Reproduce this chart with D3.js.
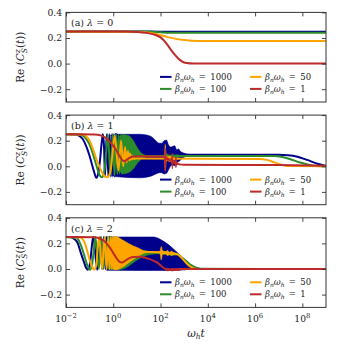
<!DOCTYPE html>
<html>
<head>
  <meta charset='utf-8'>
  <script src='https://cdnjs.cloudflare.com/ajax/libs/d3/7.8.5/d3.min.js'></script>
  <style>
    body { margin: 0; background: #fff; }
  </style>
</head>
<body>
<svg id='plot' width='338' height='350'></svg>
<script>
// x values are log10(omega_h t); band rows are [log10 t, low, high]
const betaLabels = ['1000', '100', '50', '1'];
const colors = ['#00008b', '#2a8c2a', '#ffa500', '#bd2a2a'];
const lambdas = ['0', '1', '2'];
const panelTags = ['(a)', '(b)', '(c)'];
const xTickExps = [-2, 0, 2, 4, 6, 8];
const yTicks = [-0.2, 0.0, 0.2, 0.4];
const FONT = 'DejaVu Serif';

// (a) lambda = 0
const a1000 = [[-2, .25], [1.5, .25], [2.5, .249], [9, .249]];
const a100 = [[-2, .25], [1.2, .25], [1.6, .248], [2.0, .244], [2.5, .241], [9, .241]];
const a50 = [[-2, .25], [0.8, .249], [1.3, .245], [1.7, .235], [2.0, .222], [2.3, .207],
  [2.6, .195], [2.9, .186], [3.3, .179], [4, .177], [9, .177]];
const a1 = [[-2, .25], [0.5, .25], [1.0, .247], [1.4, .24], [1.7, .228], [2.0, .205],
  [2.15, .18], [2.3, .145], [2.45, .105], [2.6, .07], [2.75, .04], [2.9, .018],
  [3.1, .005], [3.4, .001], [9, 0]];

// (b) lambda = 1
const b1000 = [[-2, .25], [-1.6, .249], [-1.45, .24], [-1.3, .215], [-1.15, .16], [-1.0, .08],
  [-0.88, 0], [-0.8, -.05], [-0.72, -.09], [-0.64, -.06], [-0.56, .05], [-0.48, .2],
  [-0.44, .25], [-0.39, .15], [-0.35, -.08], [-0.31, .12], [-0.27, .25], [-0.21, -.08],
  [-0.15, .25], [-0.1, -.08], [-0.053, .25], [-0.015, -.08], [0.025, .25], [0.06, -.08],
  [0.09, .25], [1.0, .08], [3.25, .09], [7.0, .09], [7.4, .087], [7.8, .075], [8.2, .05],
  [8.6, .022], [9, .003]];
const b1000Band = [[0.06, -.08, .25], [1.1, -.09, .25], [1.4, -.085, .245], [1.62, -.075, .23],
  [1.8, -.06, .2], [1.95, -.05, .18], [2.05, -.05, .18], [2.15, -.06, .2], [2.25, -.055, .205],
  [2.33, -.03, .17], [2.42, 0, .15], [2.5, .01, .155], [2.6, .005, .16], [2.68, .03, .13],
  [2.76, .035, .135], [2.85, .05, .115], [2.95, .065, .105], [3.1, .08, .097], [3.25, .088, .092]];
const b100 = [[-2, .25], [-1.5, .249], [-1.3, .24], [-1.15, .215], [-1.0, .17], [-0.85, .09],
  [-0.72, .01], [-0.6, -.06], [-0.48, -.085], [-0.4, -.06], [-0.33, .04], [-0.27, .18],
  [-0.23, .25], [-0.114, -.07], [-0.02, .25], [0.053, -.07], [0.117, .25], [0.173, -.06],
  [0.223, .245], [0.267, -.055], [0.307, .24], [0.344, -.05], [0.378, .235], [0.7, .08],
  [1.5, .08], [6.8, .08], [7.1, .075], [7.5, .055], [7.9, .03], [8.3, .01], [8.6, .002], [9, 0]];
const b100Band = [[0.34, -.06, .25], [0.64, -.05, .24], [0.85, -.02, .2], [1.0, .02, .15],
  [1.15, .05, .11], [1.3, .07, .09], [1.5, .077, .082], [2.1, .077, .082], [2.2, .06, .1],
  [2.3, .065, .095], [2.4, .075, .085], [2.5, .065, .095], [2.6, .072, .088], [2.7, .07, .09],
  [2.85, .078, .081]];
const b50 = [[-2, .25], [-1.3, .248], [-1.15, .235], [-1.0, .2], [-0.85, .13], [-0.7, .05],
  [-0.55, -.02], [-0.4, -.07], [-0.25, -.085], [-0.12, -.04], [-0.03, .1], [0.06, .24],
  [0.22, -.03], [0.33, .2], [0.42, 0], [0.5, .15], [0.56, .03], [0.62, .12], [0.67, .045],
  [0.71, .1], [0.75, .05], [0.79, .085], [0.82, .055], [0.85, .075], [0.9, .058], [1.0, .062],
  [1.1, .06], [6.2, .058], [6.5, .05], [6.8, .032], [7.1, .013], [7.4, .002], [9, 0]];
const b50Band = [[2.17, .055, .065], [2.2, -.03, .17], [2.23, .03, .09], [2.3, .045, .075],
  [2.4, .035, .08], [2.5, .045, .07], [2.6, .05, .065], [2.75, .058, .06]];
const b1 = [[-2, .25], [-0.8, .249], [-0.5, .24], [-0.3, .22], [-0.1, .18], [0.08, .14], [0.2, .1],
  [0.3, .07], [0.4, .045], [0.47, .04], [0.57, .05], [0.7, .068], [0.85, .076], [1.2, .078],
  [2.0, .076], [2.15, .072], [2.4, .05], [2.6, .03], [2.8, .015], [3.0, .012], [7, .01], [9, .004]];
const b1Band = [[2.15, .072, .078], [2.2, -.04, .14], [2.25, .05, .07], [2.4, .04, .055],
  [2.47, .02, .07], [2.5, -.02, .1], [2.53, .02, .05], [2.6, .02, .04], [2.65, -.01, .07],
  [2.7, .015, .03], [2.8, .012, .018]];

// (c) lambda = 2
const c1000 = [[-2, .25], [-1.8, .248], [-1.65, .235], [-1.5, .2], [-1.38, .13], [-1.25, .06],
  [-1.15, .01], [-1.09, -.005], [-1.02, .01], [-0.95, .1], [-0.88, .22], [-0.84, .25],
  [-0.68, -.005], [-0.56, .25], [-0.47, 0], [-0.4, .25], [-0.33, 0], [-0.28, .25],
  [-0.225, 0], [-0.18, .25], [0, .12], [3.0, .05], [3.7, 0], [9, 0]];
const c1000Band = [[-0.28, -.01, .25], [1.7, -.012, .25], [1.9, -.012, .24], [2.1, -.012, .22],
  [2.3, -.012, .195], [2.5, -.012, .165], [2.7, -.01, .13], [2.9, -.008, .095], [3.1, -.005, .06],
  [3.3, -.003, .03], [3.5, -.001, .01], [3.7, 0, .002]];
const c100 = [[-2, .25], [-1.6, .247], [-1.5, .235], [-1.38, .19], [-1.25, .12], [-1.12, .04],
  [-1.02, 0], [-0.98, -.005], [-0.9, .03], [-0.82, .15], [-0.76, .25], [-0.61, 0], [-0.51, .25],
  [-0.42, 0], [-0.35, .25], [-0.28, 0], [-0.23, .25], [-0.18, 0], [-0.14, .25], [0.5, .12],
  [1.9, .125], [2.7, .115], [2.9, .09], [3.1, .06], [3.3, .03], [3.5, .01], [3.7, .001], [9, 0]];
const c100Band = [[-0.18, -.005, .25], [0.1, -.005, .25], [0.4, 0, .225], [0.7, .03, .19],
  [1.0, .07, .16], [1.3, .1, .145], [1.6, .115, .135], [1.9, .12, .13], [2.1, .115, .14],
  [2.3, .11, .13], [2.5, .108, .125], [2.7, .108, .12]];
const c50 = [[-2, .25], [-1.4, .247], [-1.3, .235], [-1.2, .2], [-1.1, .14], [-1.0, .07],
  [-0.9, .02], [-0.8, -.005], [-0.72, .03], [-0.66, .15], [-0.6, .25], [-0.47, 0], [-0.37, .25],
  [-0.28, 0], [-0.21, .25], [-0.155, 0], [-0.1, .25], [-0.056, 0], [-0.013, .25], [0.025, 0],
  [0.06, .25], [0.5, .12], [1.48, .133], [2.0, .13], [2.7, .117], [2.85, .095], [3.0, .065],
  [3.15, .035], [3.3, .015], [3.45, .003], [3.6, 0], [9, 0]];
const c50Band = [[0.03, -.005, .25], [0.15, -.005, .25], [0.35, .01, .23], [0.64, .047, .2],
  [0.85, .075, .18], [1.06, .099, .164], [1.25, .12, .145], [1.48, .13, .136], [1.9, .128, .134],
  [1.98, .12, .14], [2.03, .07, .175], [2.08, .115, .145], [2.2, .12, .135], [2.3, .105, .145],
  [2.38, .115, .13], [2.45, .105, .14], [2.55, .112, .128], [2.7, .115, .12]];
const c1 = [[-2, .25], [-0.8, .248], [-0.6, .24], [-0.4, .22], [-0.2, .18], [0, .125], [0.15, .08],
  [0.27, .055], [0.35, .05], [0.45, .057], [0.57, .073], [0.7, .087], [0.85, .094], [1.1, .095],
  [1.35, .088], [1.55, .077], [1.75, .06], [1.9, .045], [2.02, .025], [2.12, .01], [2.22, 0],
  [2.35, -.005], [2.6, -.003], [2.9, 0], [9, 0]];
const c1Band = [[2.2, -.002, .002], [2.3, -.015, .005], [2.4, -.01, 0], [2.5, -.016, .004],
  [2.6, -.01, .002], [2.75, -.012, .003], [2.9, -.002, .002]];

const panelLines = [[a1000, a100, a50, a1], [b1000, b100, b50, b1], [c1000, c100, c50, c1]];
const panelBands = [[[], [], [], []], [b1000Band, b100Band, b50Band, b1Band], [c1000Band, c100Band, c50Band, c1Band]];

const svg = d3.select('#plot');
const left = 66, right = 326, panelH = 89.6;
const tops = [12.4, 115.1, 217.8];
const x = d3.scaleLog().domain([1e-2, 1e9]).range([left, right]);

tops.forEach((top, p) => {
  const y = d3.scaleLinear().domain([-0.3, 0.4]).range([top + panelH, top]);
  const g = svg.append('g');
  g.append('clipPath').attr('id', 'clip' + p)
    .append('rect').attr('x', left).attr('y', top).attr('width', right - left).attr('height', panelH);
  const plot = g.append('g').attr('clip-path', `url(#clip${p})`);
  const line = d3.line().x((d) => x(Math.pow(10, d[0]))).y((d) => y(d[1])).curve(d3.curveMonotoneX);
  const area = d3.area().x((d) => x(Math.pow(10, d[0])))
    .y0((d) => y(d[1])).y1((d) => y(d[2])).curve(d3.curveMonotoneX);
  panelLines[p].forEach((series, i) => {
    const band = panelBands[p][i];
    if (band.length) {
      plot.append('path').datum(band).attr('fill', colors[i])
        .attr('stroke', colors[i]).attr('stroke-width', 0.6).attr('d', area);
    }
    plot.append('path').datum(series)
      .attr('fill', 'none').attr('stroke', colors[i]).attr('stroke-width', 2)
      .attr('stroke-linejoin', 'round').attr('d', line);
  });

  // axes: ticks inward on all four sides
  const xt = xTickExps.map((e) => Math.pow(10, e));
  g.append('g').attr('transform', `translate(0,${top + panelH})`)
    .call(d3.axisBottom(x).tickValues(xt).tickSizeInner(-4).tickSizeOuter(0).tickFormat(''));
  g.append('g').attr('transform', `translate(0,${top})`)
    .call(d3.axisTop(x).tickValues(xt).tickSizeInner(-4).tickSizeOuter(0).tickFormat(''));
  const yl = g.append('g').attr('transform', `translate(${left},0)`)
    .call(d3.axisLeft(y).tickValues(yTicks).tickSizeInner(-4).tickSizeOuter(0).tickPadding(4)
      .tickFormat((d) => d3.format('.1f')(d).replace('-', '\u2212')));
  g.append('g').attr('transform', `translate(${right},0)`)
    .call(d3.axisRight(y).tickValues(yTicks).tickSizeInner(-4).tickSizeOuter(0).tickFormat(''));
  g.selectAll('.domain').remove();
  g.selectAll('.tick line').attr('stroke', '#333').attr('stroke-width', 0.9);
  yl.selectAll('text').attr('font-size', 9.2).attr('fill', '#222').style('font-family', FONT);
  g.append('rect').attr('x', left).attr('y', top).attr('width', right - left).attr('height', panelH)
    .attr('fill', 'none').attr('stroke', '#333').attr('stroke-width', 1);

  if (p === 2) {
    xt.forEach((v, k) => {
      const t = g.append('text').attr('x', x(v)).attr('y', top + panelH + 15)
        .attr('text-anchor', 'middle').attr('font-size', 9.2).attr('fill', '#222')
        .style('font-family', FONT);
      t.append('tspan').text('10');
      t.append('tspan').attr('dy', -4).attr('font-size', 6.8)
        .text(String(xTickExps[k]).replace('-', '\u2212'));
    });
  }

  // panel tag
  const tag = g.append('text').attr('x', left + 5).attr('y', top + 14).attr('font-size', 9.5)
    .attr('fill', '#222').style('font-family', FONT);
  tag.append('tspan').text(panelTags[p] + ' ');
  tag.append('tspan').attr('font-style', 'italic').text('λ');
  tag.append('tspan').text(' = ' + lambdas[p]);

  // y label
  const yc = top + panelH / 2;
  const lab = g.append('text').attr('transform', `translate(24,${yc}) rotate(-90)`)
    .attr('text-anchor', 'middle').attr('font-size', 10.5).attr('fill', '#222')
    .style('font-family', FONT);
  lab.append('tspan').text('Re (');
  lab.append('tspan').attr('font-style', 'italic').text('C');
  lab.append('tspan').attr('font-style', 'italic').attr('font-size', 7.5).attr('dy', -4.5).text('z');
  lab.append('tspan').attr('font-style', 'italic').attr('font-size', 7.5).attr('dx', -4).attr('dy', 7.5).text('S');
  lab.append('tspan').attr('dy', -3).text('(');
  lab.append('tspan').attr('font-style', 'italic').text('t');
  lab.append('tspan').text('))');

  // legend, two columns
  const rows = [top + 64.5, top + 76.5];
  const cols = [160, 250];
  betaLabels.forEach((b, i) => {
    const cx = cols[Math.floor(i / 2)], cy = rows[i % 2];
    g.append('line').attr('x1', cx).attr('x2', cx + 11.5).attr('y1', cy).attr('y2', cy)
      .attr('stroke', colors[i]).attr('stroke-width', 2);
    const t = g.append('text').attr('x', cx + 15).attr('y', cy + 3).attr('font-size', 8.5)
      .attr('fill', '#222').style('font-family', FONT);
    t.append('tspan').attr('font-style', 'italic').text('β');
    t.append('tspan').attr('font-style', 'italic').attr('font-size', 6).attr('dy', 2).text('n');
    t.append('tspan').attr('font-style', 'italic').attr('dy', -2).text('ω');
    t.append('tspan').attr('font-style', 'italic').attr('font-size', 6).attr('dy', 2).text('h');
    t.append('tspan').attr('dy', -2).text('\u2002=\u2002' + b);
  });
});

// x label
const xl = svg.append('text').attr('x', (left + right) / 2).attr('y', 337)
  .attr('text-anchor', 'middle').attr('font-size', 10.5).attr('fill', '#222')
  .style('font-family', FONT);
xl.append('tspan').attr('font-style', 'italic').text('ω');
xl.append('tspan').attr('font-style', 'italic').attr('font-size', 7.5).attr('dy', 2).text('h');
xl.append('tspan').attr('font-style', 'italic').attr('dy', -2).text('t');
</script>
</body>
</html>
